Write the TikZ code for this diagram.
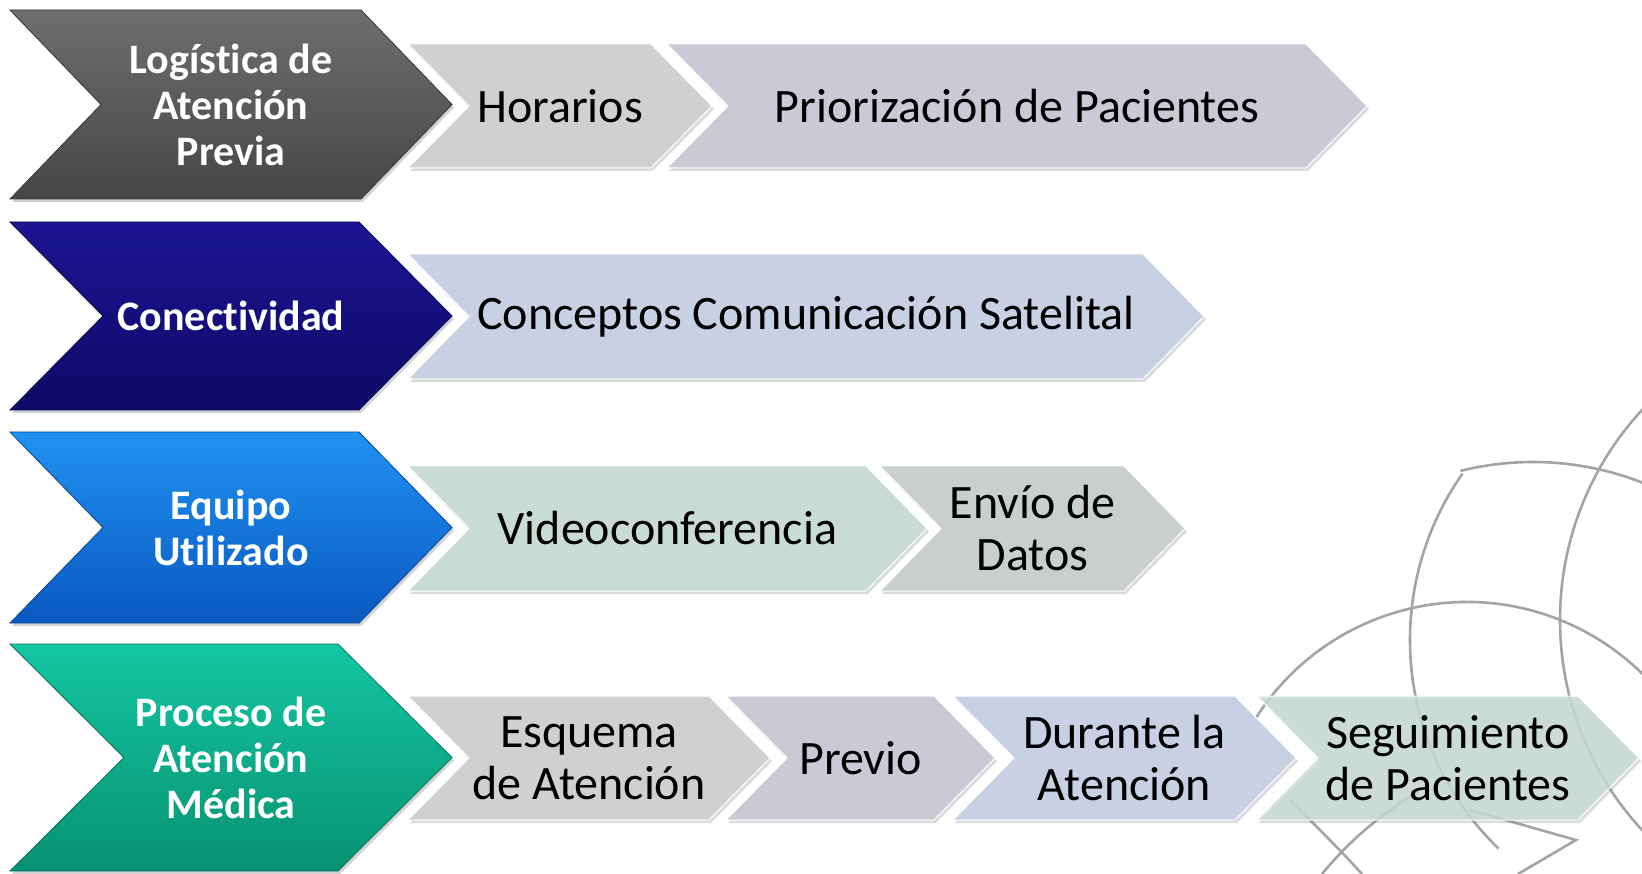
\documentclass[tikz,border=0pt]{standalone}
\usepackage{fontspec}
\setmainfont{Carlito}[Ligatures=NoCommon]
\usetikzlibrary{shadows}
\definecolor{pgrayT}{HTML}{6E6E6E}
\definecolor{pgrayB}{HTML}{464646}
\definecolor{navyT}{HTML}{1C1494}
\definecolor{navyB}{HTML}{0E0A66}
\definecolor{blueT}{HTML}{2092F2}
\definecolor{blueB}{HTML}{0A58C0}
\definecolor{tealT}{HTML}{14C6A2}
\definecolor{tealB}{HTML}{079272}
\definecolor{sgray}{HTML}{D0D0D0}
\definecolor{slav}{HTML}{C9CAD6}
\definecolor{sblue}{HTML}{C8D0E4}
\definecolor{smint}{HTML}{C8DCD4}
\definecolor{sstone}{HTML}{C9CFCE}
\definecolor{arcgray}{HTML}{A4A4A4}
\tikzset{
  prim/.style 2 args={top color=#1, bottom color=#2, draw=#2!80!black, line width=0.8pt,
    drop shadow={opacity=0.35,shadow xshift=2pt,shadow yshift=-3pt}},
  sec/.style={fill=#1, draw=white, line width=1pt,
    drop shadow={opacity=0.28,shadow xshift=2pt,shadow yshift=-3pt}},
  ptext/.style={text=white, font=\fontsize{42}{46}\selectfont\bfseries, align=center, inner sep=0pt},
  stext/.style={text=black, font=\fontsize{48}{52}\selectfont, align=center, inner sep=0pt},
  arcline/.style={draw=arcgray, line width=2.6pt}
}
% #1 name of centre coordinate, #2 style, #3 left, #4 tip, #5 top, #6 bottom, #7 depth
\newcommand\mychev[7]{%
  \pgfmathsetmacro\cyy{(#5+#6)/2}%
  \pgfmathsetmacro\cxx{(#3+#4)/2}%
  \path[#2] (#3,#5) -- ({#4-#7},#5) -- (#4,\cyy) -- ({#4-#7},#6) -- (#3,#6) -- ({#3+#7},\cyy) -- cycle;
  \coordinate (#1) at (\cxx,\cyy);
}
\begin{document}
\begin{tikzpicture}[x=1pt,y=-1pt]
\useasboundingbox (0,0) rectangle (1642,874);
\fill[white] (0,0) rectangle (1642,874);
% decorative watermark arcs
\draw[arcline] (1700,640) ++(215:290) arc[start angle=215, end angle=134, radius=290];
\draw[arcline] (1533,762) ++(256:300) arc[start angle=256, end angle=300, radius=300];
\draw[arcline] (1870,620) ++(223:310) arc[start angle=223, end angle=135, radius=310];
\draw[arcline] (1467,852) ++(205:250) arc[start angle=205, end angle=330, radius=250];
\coordinate (w1) at (1290,800); \coordinate (w2) at (1362,874);
\coordinate (w3) at (1322,874); \coordinate (w4) at (1420,790);
\coordinate (w5) at (1470,810); \coordinate (w6) at (1576,840); \coordinate (w7) at (1518,874);
\draw[arcline] (w1) .. controls (1320,830) and (1345,855) .. (w2);
\draw[arcline] (w3) .. controls (1350,840) and (1380,815) .. (w4);
\draw[arcline] (w5) -- (w6) -- (w7);

% Row 1
\mychev{c12}{sec=slav}{667}{1367}{44}{168}{61}
\mychev{c11}{sec=sgray}{408}{712}{44}{168}{61}
\mychev{c10}{prim={pgrayT}{pgrayB}}{10}{452}{10}{199}{91}
\node[ptext] (p1) at (c10) {Logística de\\Atención\\Previa};
\node[stext] (s11) at (c11) {Horarios};
\node[stext] (s12) at (c12) {Priorización de Pacientes};

% Row 2
\mychev{c21}{sec=sblue}{408}{1204}{254}{379}{61}
\mychev{c20}{prim={navyT}{navyB}}{10}{452}{222}{410}{93}
\node[ptext] (p2) at (c20) {Conectividad};
\node[stext] (s21) at (c21) {Conceptos Comunicación Satelital};

% Row 3
\mychev{c32}{sec=sstone}{880}{1185}{466}{591}{61}
\mychev{c31}{sec=smint}{408}{927}{466}{591}{61}
\mychev{c30}{prim={blueT}{blueB}}{10}{452}{432}{623}{93}
\node[ptext] (p3) at (c30) {Equipo\\Utilizado};
\node[stext] (s31) at (c31) {Videoconferencia};
\node[stext] (s32) at (c32) {Envío de\\Datos};

% Row 4
\mychev{c43}{sec=sblue}{953}{1296}{696}{820}{61}
\mychev{c44}{sec=smint,fill opacity=0.82}{1257}{1639}{696}{820}{61}
\mychev{c42}{sec=slav}{726}{995}{696}{820}{61}
\mychev{c41}{sec=sgray}{408}{770}{696}{820}{61}
\mychev{c40}{prim={tealT}{tealB}}{10}{452}{644}{871}{114}
\node[ptext] (p4) at (c40) {Proceso de\\Atención\\Médica};
\node[stext] (s41) at (c41) {Esquema\\de Atención};
\node[stext] (s42) at (c42) {Previo};
\node[stext] (s43) at (c43) {Durante la\\Atención};
\node[stext] (s44) at (c44) {Seguimiento\\de Pacientes};
\end{tikzpicture}
\end{document}
